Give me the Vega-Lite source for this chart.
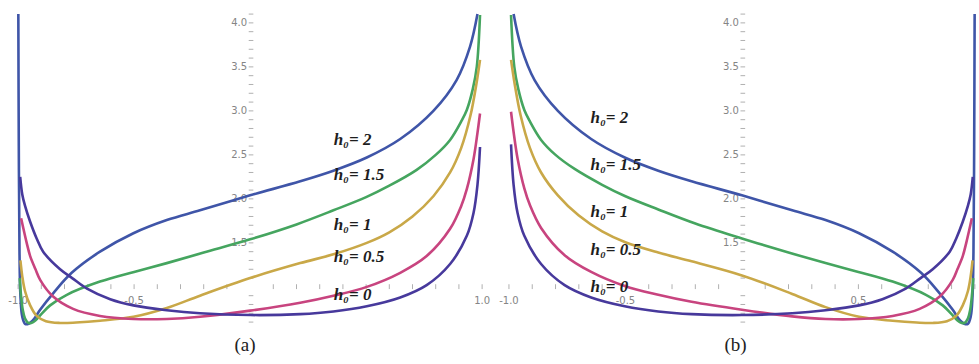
{
  "$schema": "https://vega.github.io/schema/vega-lite/v6.json",
  "background": "white",
  "padding": 0,
  "spacing": 0,
  "config": {"view": {"stroke": null}},
  "datasets": {
    "a": [
      {"h": "2", "x": -0.999, "y": 4.1}, {"h": "2", "x": -0.997, "y": 2.6}, {"h": "2", "x": -0.994, "y": 1.4}, {"h": "2", "x": -0.99, "y": 0.9}, {"h": "2", "x": -0.982, "y": 0.66}, {"h": "2", "x": -0.97, "y": 0.58}, {"h": "2", "x": -0.955, "y": 0.58}, {"h": "2", "x": -0.93, "y": 0.64}, {"h": "2", "x": -0.905, "y": 0.74}, {"h": "2", "x": -0.848, "y": 0.93}, {"h": "2", "x": -0.769, "y": 1.16}, {"h": "2", "x": -0.647, "y": 1.4}, {"h": "2", "x": -0.503, "y": 1.61}, {"h": "2", "x": -0.359, "y": 1.76}, {"h": "2", "x": -0.216, "y": 1.87}, {"h": "2", "x": 0, "y": 2.04}, {"h": "2", "x": 0.216, "y": 2.2}, {"h": "2", "x": 0.359, "y": 2.32}, {"h": "2", "x": 0.503, "y": 2.47}, {"h": "2", "x": 0.647, "y": 2.68}, {"h": "2", "x": 0.79, "y": 3.0}, {"h": "2", "x": 0.89, "y": 3.35}, {"h": "2", "x": 0.948, "y": 3.73}, {"h": "2", "x": 0.98, "y": 4.1},
      {"h": "1.5", "x": -0.993, "y": 1.1}, {"h": "1.5", "x": -0.988, "y": 0.92}, {"h": "1.5", "x": -0.98, "y": 0.74}, {"h": "1.5", "x": -0.97, "y": 0.64}, {"h": "1.5", "x": -0.955, "y": 0.59}, {"h": "1.5", "x": -0.935, "y": 0.6}, {"h": "1.5", "x": -0.9, "y": 0.69}, {"h": "1.5", "x": -0.862, "y": 0.79}, {"h": "1.5", "x": -0.79, "y": 0.91}, {"h": "1.5", "x": -0.647, "y": 1.06}, {"h": "1.5", "x": -0.5, "y": 1.17}, {"h": "1.5", "x": -0.359, "y": 1.27}, {"h": "1.5", "x": -0.2, "y": 1.39}, {"h": "1.5", "x": 0, "y": 1.54}, {"h": "1.5", "x": 0.2, "y": 1.71}, {"h": "1.5", "x": 0.359, "y": 1.87}, {"h": "1.5", "x": 0.5, "y": 2.02}, {"h": "1.5", "x": 0.6, "y": 2.15}, {"h": "1.5", "x": 0.718, "y": 2.33}, {"h": "1.5", "x": 0.8, "y": 2.5}, {"h": "1.5", "x": 0.862, "y": 2.67}, {"h": "1.5", "x": 0.91, "y": 2.88}, {"h": "1.5", "x": 0.934, "y": 3.01}, {"h": "1.5", "x": 0.96, "y": 3.25}, {"h": "1.5", "x": 0.977, "y": 3.5}, {"h": "1.5", "x": 0.991, "y": 4.09},
      {"h": "1", "x": -0.99, "y": 1.3}, {"h": "1", "x": -0.982, "y": 1.12}, {"h": "1", "x": -0.97, "y": 0.95}, {"h": "1", "x": -0.948, "y": 0.79}, {"h": "1", "x": -0.92, "y": 0.67}, {"h": "1", "x": -0.88, "y": 0.61}, {"h": "1", "x": -0.82, "y": 0.59}, {"h": "1", "x": -0.75, "y": 0.595}, {"h": "1", "x": -0.647, "y": 0.615}, {"h": "1", "x": -0.503, "y": 0.66}, {"h": "1", "x": -0.359, "y": 0.76}, {"h": "1", "x": -0.216, "y": 0.9}, {"h": "1", "x": 0, "y": 1.1}, {"h": "1", "x": 0.216, "y": 1.27}, {"h": "1", "x": 0.359, "y": 1.37}, {"h": "1", "x": 0.503, "y": 1.5}, {"h": "1", "x": 0.6, "y": 1.62}, {"h": "1", "x": 0.7, "y": 1.8}, {"h": "1", "x": 0.79, "y": 2.03}, {"h": "1", "x": 0.862, "y": 2.3}, {"h": "1", "x": 0.91, "y": 2.58}, {"h": "1", "x": 0.95, "y": 2.95}, {"h": "1", "x": 0.975, "y": 3.3}, {"h": "1", "x": 0.991, "y": 3.58},
      {"h": "0.5", "x": -0.987, "y": 1.78}, {"h": "0.5", "x": -0.977, "y": 1.66}, {"h": "0.5", "x": -0.963, "y": 1.5}, {"h": "0.5", "x": -0.948, "y": 1.35}, {"h": "0.5", "x": -0.925, "y": 1.2}, {"h": "0.5", "x": -0.905, "y": 1.08}, {"h": "0.5", "x": -0.849, "y": 0.89}, {"h": "0.5", "x": -0.763, "y": 0.75}, {"h": "0.5", "x": -0.647, "y": 0.67}, {"h": "0.5", "x": -0.503, "y": 0.635}, {"h": "0.5", "x": -0.359, "y": 0.635}, {"h": "0.5", "x": -0.216, "y": 0.66}, {"h": "0.5", "x": 0, "y": 0.73}, {"h": "0.5", "x": 0.216, "y": 0.82}, {"h": "0.5", "x": 0.359, "y": 0.9}, {"h": "0.5", "x": 0.503, "y": 1.0}, {"h": "0.5", "x": 0.647, "y": 1.16}, {"h": "0.5", "x": 0.761, "y": 1.35}, {"h": "0.5", "x": 0.862, "y": 1.66}, {"h": "0.5", "x": 0.91, "y": 1.92}, {"h": "0.5", "x": 0.934, "y": 2.11}, {"h": "0.5", "x": 0.963, "y": 2.45}, {"h": "0.5", "x": 0.98, "y": 2.75}, {"h": "0.5", "x": 0.991, "y": 2.97},
      {"h": "0", "x": -0.991, "y": 2.25}, {"h": "0", "x": -0.982, "y": 2.05}, {"h": "0", "x": -0.97, "y": 1.92}, {"h": "0", "x": -0.948, "y": 1.74}, {"h": "0", "x": -0.92, "y": 1.55}, {"h": "0", "x": -0.892, "y": 1.4}, {"h": "0", "x": -0.819, "y": 1.2}, {"h": "0", "x": -0.767, "y": 1.1}, {"h": "0", "x": -0.703, "y": 0.98}, {"h": "0", "x": -0.603, "y": 0.86}, {"h": "0", "x": -0.503, "y": 0.79}, {"h": "0", "x": -0.359, "y": 0.735}, {"h": "0", "x": -0.216, "y": 0.7}, {"h": "0", "x": 0, "y": 0.68}, {"h": "0", "x": 0.216, "y": 0.69}, {"h": "0", "x": 0.359, "y": 0.72}, {"h": "0", "x": 0.503, "y": 0.78}, {"h": "0", "x": 0.647, "y": 0.88}, {"h": "0", "x": 0.761, "y": 1.02}, {"h": "0", "x": 0.862, "y": 1.26}, {"h": "0", "x": 0.934, "y": 1.58}, {"h": "0", "x": 0.963, "y": 1.84}, {"h": "0", "x": 0.98, "y": 2.16}, {"h": "0", "x": 0.991, "y": 2.59}
    ],
    "b": [
      {"h": "2", "x": 0.999, "y": 4.1}, {"h": "2", "x": 0.997, "y": 2.6}, {"h": "2", "x": 0.994, "y": 1.4}, {"h": "2", "x": 0.99, "y": 0.9}, {"h": "2", "x": 0.982, "y": 0.66}, {"h": "2", "x": 0.97, "y": 0.58}, {"h": "2", "x": 0.955, "y": 0.58}, {"h": "2", "x": 0.93, "y": 0.64}, {"h": "2", "x": 0.905, "y": 0.74}, {"h": "2", "x": 0.848, "y": 0.93}, {"h": "2", "x": 0.769, "y": 1.16}, {"h": "2", "x": 0.647, "y": 1.4}, {"h": "2", "x": 0.503, "y": 1.61}, {"h": "2", "x": 0.359, "y": 1.76}, {"h": "2", "x": 0.216, "y": 1.87}, {"h": "2", "x": 0, "y": 2.04}, {"h": "2", "x": -0.216, "y": 2.2}, {"h": "2", "x": -0.359, "y": 2.32}, {"h": "2", "x": -0.503, "y": 2.47}, {"h": "2", "x": -0.647, "y": 2.68}, {"h": "2", "x": -0.79, "y": 3.0}, {"h": "2", "x": -0.89, "y": 3.35}, {"h": "2", "x": -0.948, "y": 3.73}, {"h": "2", "x": -0.98, "y": 4.1},
      {"h": "1.5", "x": 0.993, "y": 1.1}, {"h": "1.5", "x": 0.988, "y": 0.92}, {"h": "1.5", "x": 0.98, "y": 0.74}, {"h": "1.5", "x": 0.97, "y": 0.64}, {"h": "1.5", "x": 0.955, "y": 0.59}, {"h": "1.5", "x": 0.935, "y": 0.6}, {"h": "1.5", "x": 0.9, "y": 0.69}, {"h": "1.5", "x": 0.862, "y": 0.79}, {"h": "1.5", "x": 0.79, "y": 0.91}, {"h": "1.5", "x": 0.647, "y": 1.06}, {"h": "1.5", "x": 0.5, "y": 1.17}, {"h": "1.5", "x": 0.359, "y": 1.27}, {"h": "1.5", "x": 0.2, "y": 1.39}, {"h": "1.5", "x": 0, "y": 1.55}, {"h": "1.5", "x": -0.2, "y": 1.72}, {"h": "1.5", "x": -0.359, "y": 1.88}, {"h": "1.5", "x": -0.5, "y": 2.03}, {"h": "1.5", "x": -0.6, "y": 2.16}, {"h": "1.5", "x": -0.718, "y": 2.34}, {"h": "1.5", "x": -0.8, "y": 2.5}, {"h": "1.5", "x": -0.862, "y": 2.67}, {"h": "1.5", "x": -0.91, "y": 2.88}, {"h": "1.5", "x": -0.934, "y": 3.01}, {"h": "1.5", "x": -0.96, "y": 3.25}, {"h": "1.5", "x": -0.977, "y": 3.5}, {"h": "1.5", "x": -0.991, "y": 4.09},
      {"h": "1", "x": 0.99, "y": 1.3}, {"h": "1", "x": 0.982, "y": 1.12}, {"h": "1", "x": 0.97, "y": 0.95}, {"h": "1", "x": 0.948, "y": 0.79}, {"h": "1", "x": 0.92, "y": 0.67}, {"h": "1", "x": 0.88, "y": 0.61}, {"h": "1", "x": 0.82, "y": 0.59}, {"h": "1", "x": 0.75, "y": 0.595}, {"h": "1", "x": 0.647, "y": 0.615}, {"h": "1", "x": 0.503, "y": 0.66}, {"h": "1", "x": 0.359, "y": 0.77}, {"h": "1", "x": 0.216, "y": 0.92}, {"h": "1", "x": 0, "y": 1.13}, {"h": "1", "x": -0.216, "y": 1.29}, {"h": "1", "x": -0.359, "y": 1.39}, {"h": "1", "x": -0.503, "y": 1.51}, {"h": "1", "x": -0.6, "y": 1.63}, {"h": "1", "x": -0.7, "y": 1.81}, {"h": "1", "x": -0.79, "y": 2.04}, {"h": "1", "x": -0.862, "y": 2.3}, {"h": "1", "x": -0.91, "y": 2.58}, {"h": "1", "x": -0.95, "y": 2.95}, {"h": "1", "x": -0.975, "y": 3.3}, {"h": "1", "x": -0.991, "y": 3.58},
      {"h": "0.5", "x": 0.987, "y": 1.78}, {"h": "0.5", "x": 0.977, "y": 1.66}, {"h": "0.5", "x": 0.963, "y": 1.5}, {"h": "0.5", "x": 0.948, "y": 1.35}, {"h": "0.5", "x": 0.925, "y": 1.2}, {"h": "0.5", "x": 0.905, "y": 1.08}, {"h": "0.5", "x": 0.849, "y": 0.89}, {"h": "0.5", "x": 0.763, "y": 0.75}, {"h": "0.5", "x": 0.647, "y": 0.67}, {"h": "0.5", "x": 0.503, "y": 0.635}, {"h": "0.5", "x": 0.359, "y": 0.635}, {"h": "0.5", "x": 0.216, "y": 0.665}, {"h": "0.5", "x": 0, "y": 0.74}, {"h": "0.5", "x": -0.216, "y": 0.83}, {"h": "0.5", "x": -0.359, "y": 0.91}, {"h": "0.5", "x": -0.503, "y": 1.01}, {"h": "0.5", "x": -0.647, "y": 1.17}, {"h": "0.5", "x": -0.761, "y": 1.36}, {"h": "0.5", "x": -0.862, "y": 1.67}, {"h": "0.5", "x": -0.91, "y": 1.93}, {"h": "0.5", "x": -0.934, "y": 2.12}, {"h": "0.5", "x": -0.963, "y": 2.46}, {"h": "0.5", "x": -0.98, "y": 2.76}, {"h": "0.5", "x": -0.991, "y": 2.99},
      {"h": "0", "x": 0.991, "y": 2.25}, {"h": "0", "x": 0.982, "y": 2.05}, {"h": "0", "x": 0.97, "y": 1.92}, {"h": "0", "x": 0.948, "y": 1.74}, {"h": "0", "x": 0.92, "y": 1.55}, {"h": "0", "x": 0.892, "y": 1.4}, {"h": "0", "x": 0.819, "y": 1.2}, {"h": "0", "x": 0.767, "y": 1.1}, {"h": "0", "x": 0.703, "y": 0.98}, {"h": "0", "x": 0.603, "y": 0.86}, {"h": "0", "x": 0.503, "y": 0.79}, {"h": "0", "x": 0.359, "y": 0.735}, {"h": "0", "x": 0.216, "y": 0.7}, {"h": "0", "x": 0, "y": 0.68}, {"h": "0", "x": -0.216, "y": 0.69}, {"h": "0", "x": -0.359, "y": 0.72}, {"h": "0", "x": -0.503, "y": 0.78}, {"h": "0", "x": -0.647, "y": 0.88}, {"h": "0", "x": -0.761, "y": 1.02}, {"h": "0", "x": -0.862, "y": 1.26}, {"h": "0", "x": -0.934, "y": 1.58}, {"h": "0", "x": -0.963, "y": 1.84}, {"h": "0", "x": -0.98, "y": 2.16}, {"h": "0", "x": -0.991, "y": 2.62}
    ],
    "xticks": [
      {"v": -1.0}, {"v": -0.9}, {"v": -0.8}, {"v": -0.7}, {"v": -0.6}, {"v": -0.5}, {"v": -0.4}, {"v": -0.3}, {"v": -0.2}, {"v": -0.1},
      {"v": 0.1}, {"v": 0.2}, {"v": 0.3}, {"v": 0.4}, {"v": 0.5}, {"v": 0.6}, {"v": 0.7}, {"v": 0.8}, {"v": 0.9}, {"v": 1.0}
    ],
    "yticks": [
      {"v": 0.6}, {"v": 0.7}, {"v": 0.8}, {"v": 0.9}, {"v": 1.1}, {"v": 1.2}, {"v": 1.3}, {"v": 1.4}, {"v": 1.5}, {"v": 1.6}, {"v": 1.7}, {"v": 1.8}, {"v": 1.9}, {"v": 2.0},
      {"v": 2.1}, {"v": 2.2}, {"v": 2.3}, {"v": 2.4}, {"v": 2.5}, {"v": 2.6}, {"v": 2.7}, {"v": 2.8}, {"v": 2.9}, {"v": 3.0},
      {"v": 3.1}, {"v": 3.2}, {"v": 3.3}, {"v": 3.4}, {"v": 3.5}, {"v": 3.6}, {"v": 3.7}, {"v": 3.8}, {"v": 3.9}, {"v": 4.0}, {"v": 4.1}
    ],
    "ylabels": [
      {"v": 1.5, "t": "1.5"}, {"v": 2.0, "t": "2.0"}, {"v": 2.5, "t": "2.5"}, {"v": 3.0, "t": "3.0"}, {"v": 3.5, "t": "3.5"}, {"v": 4.0, "t": "4.0"}
    ],
    "xlabelsA": [
      {"v": -1.0, "t": "-1.0"}, {"v": -0.5, "t": "-0.5"}, {"v": 1.0, "t": "1.0"}
    ],
    "xlabelsB": [
      {"v": -1.0, "t": "-1.0"}, {"v": -0.5, "t": "-0.5"}, {"v": 0.5, "t": "0.5"}
    ],
    "tagsA": [
      {"x": 0.36, "y": 2.67, "t": "h₀= 2"},
      {"x": 0.36, "y": 2.27, "t": "h₀= 1.5"},
      {"x": 0.36, "y": 1.7, "t": "h₀= 1"},
      {"x": 0.36, "y": 1.34, "t": "h₀= 0.5"},
      {"x": 0.36, "y": 0.91, "t": "h₀= 0"}
    ],
    "tagsB": [
      {"x": -0.65, "y": 2.92, "t": "h₀= 2"},
      {"x": -0.65, "y": 2.39, "t": "h₀= 1.5"},
      {"x": -0.65, "y": 1.85, "t": "h₀= 1"},
      {"x": -0.65, "y": 1.42, "t": "h₀= 0.5"},
      {"x": -0.65, "y": 1.0, "t": "h₀= 0"}
    ]
  },
  "hconcat": [
    {
      "width": 490,
      "height": 330,
      "title": {"text": "(a)", "orient": "bottom", "offset": 6, "fontSize": 19, "font": "Liberation Serif", "fontWeight": "normal", "color": "#222"},
      "layer": [
        {
          "mark": {"type": "rule", "color": "#b8b8b8", "strokeWidth": 1},
          "encoding": {
            "x": {"datum": -1.078, "type": "quantitative", "scale": {"domain": [-1.078, 1.034], "nice": false, "zero": false}, "axis": null},
            "x2": {"datum": 1.03},
            "y": {"datum": 1, "type": "quantitative", "scale": {"domain": [0.51, 4.26], "nice": false, "zero": false}, "axis": null}
          }
        },
        {
          "mark": {"type": "rule", "color": "#b8b8b8", "strokeWidth": 1},
          "encoding": {
            "x": {"datum": 0, "type": "quantitative"},
            "y": {"datum": 4.15, "type": "quantitative"},
            "y2": {"datum": 0.53}
          }
        },
        {
          "data": {"name": "xticks"},
          "mark": {"type": "rule", "color": "#b0b0b0", "strokeWidth": 1},
          "encoding": {
            "x": {"field": "v", "type": "quantitative"},
            "y": {"datum": 0.975, "type": "quantitative"},
            "y2": {"datum": 1.03}
          }
        },
        {
          "data": {"name": "yticks"},
          "mark": {"type": "rule", "color": "#b0b0b0", "strokeWidth": 1},
          "encoding": {
            "y": {"field": "v", "type": "quantitative"},
            "x": {"datum": -0.006, "type": "quantitative"},
            "x2": {"datum": 0.014}
          }
        },
        {
          "data": {"name": "ylabels"},
          "mark": {"type": "text", "align": "right", "baseline": "middle", "dx": -3, "font": "DejaVu Sans", "fontSize": 10, "color": "#858585"},
          "encoding": {
            "x": {"datum": 0, "type": "quantitative"},
            "y": {"field": "v", "type": "quantitative"},
            "text": {"field": "t"}
          }
        },
        {
          "data": {"name": "xlabelsA"},
          "mark": {"type": "text", "align": "center", "baseline": "top", "dy": 9, "font": "DejaVu Sans", "fontSize": 10, "color": "#858585"},
          "encoding": {
            "x": {"field": "v", "type": "quantitative"},
            "y": {"datum": 1, "type": "quantitative"},
            "text": {"field": "t"}
          }
        },
        {
          "data": {"name": "a"},
          "mark": {"type": "line", "strokeWidth": 2.6, "interpolate": "catmull-rom", "clip": true},
          "encoding": {
            "x": {"field": "x", "type": "quantitative"},
            "y": {"field": "y", "type": "quantitative"},
            "color": {"field": "h", "type": "nominal", "legend": null, "scale": {"domain": ["0", "0.5", "1", "1.5", "2"], "range": ["#47399c", "#c8447f", "#c9a848", "#45a55f", "#3f55a8"]}}
          }
        },
        {
          "data": {"name": "tagsA"},
          "mark": {"type": "text", "align": "left", "baseline": "middle", "font": "Liberation Serif", "fontStyle": "italic", "fontWeight": "bold", "fontSize": 17, "color": "#1e1e1e"},
          "encoding": {
            "x": {"field": "x", "type": "quantitative"},
            "y": {"field": "y", "type": "quantitative"},
            "text": {"field": "t"}
          }
        },
        {
          "mark": {"type": "text", "align": "right", "baseline": "middle", "font": "DejaVu Serif", "fontWeight": "bold", "fontSize": 13, "color": "#111"},
          "encoding": {
            "x": {"datum": -0.04, "type": "quantitative"},
            "y": {"datum": 3.81, "type": "quantitative"},
            "text": {"value": "αₛ,ₚₘ"}
          }
        },
        {
          "mark": {"type": "text", "align": "left", "baseline": "middle", "font": "DejaVu Serif", "fontStyle": "italic", "fontWeight": "bold", "fontSize": 13, "color": "#111"},
          "encoding": {
            "x": {"datum": 0.76, "type": "quantitative"},
            "y": {"datum": 0.89, "type": "quantitative"},
            "text": {"value": "mₛ,ₘ"}
          }
        }
      ]
    },
    {
      "width": 489,
      "height": 330,
      "title": {"text": "(b)", "orient": "bottom", "offset": 6, "fontSize": 19, "font": "Liberation Serif", "fontWeight": "normal", "color": "#222"},
      "layer": [
        {
          "mark": {"type": "rule", "color": "#b8b8b8", "strokeWidth": 1},
          "encoding": {
            "x": {"datum": -1.077, "type": "quantitative", "scale": {"domain": [-1.077, 1.022], "nice": false, "zero": false}, "axis": null},
            "x2": {"datum": 1.022},
            "y": {"datum": 1, "type": "quantitative", "scale": {"domain": [0.51, 4.26], "nice": false, "zero": false}, "axis": null}
          }
        },
        {
          "mark": {"type": "rule", "color": "#b8b8b8", "strokeWidth": 1},
          "encoding": {
            "x": {"datum": 0, "type": "quantitative"},
            "y": {"datum": 4.2, "type": "quantitative"},
            "y2": {"datum": 0.53}
          }
        },
        {
          "data": {"name": "xticks"},
          "mark": {"type": "rule", "color": "#b0b0b0", "strokeWidth": 1},
          "encoding": {
            "x": {"field": "v", "type": "quantitative"},
            "y": {"datum": 0.975, "type": "quantitative"},
            "y2": {"datum": 1.03}
          }
        },
        {
          "data": {"name": "yticks"},
          "mark": {"type": "rule", "color": "#b0b0b0", "strokeWidth": 1},
          "encoding": {
            "y": {"field": "v", "type": "quantitative"},
            "x": {"datum": -0.006, "type": "quantitative"},
            "x2": {"datum": 0.014}
          }
        },
        {
          "data": {"name": "ylabels"},
          "mark": {"type": "text", "align": "right", "baseline": "middle", "dx": -3, "font": "DejaVu Sans", "fontSize": 10, "color": "#858585"},
          "encoding": {
            "x": {"datum": 0, "type": "quantitative"},
            "y": {"field": "v", "type": "quantitative"},
            "text": {"field": "t"}
          }
        },
        {
          "data": {"name": "xlabelsB"},
          "mark": {"type": "text", "align": "center", "baseline": "top", "dy": 9, "font": "DejaVu Sans", "fontSize": 10, "color": "#858585"},
          "encoding": {
            "x": {"field": "v", "type": "quantitative"},
            "y": {"datum": 1, "type": "quantitative"},
            "text": {"field": "t"}
          }
        },
        {
          "data": {"name": "b"},
          "mark": {"type": "line", "strokeWidth": 2.6, "interpolate": "catmull-rom", "clip": true},
          "encoding": {
            "x": {"field": "x", "type": "quantitative"},
            "y": {"field": "y", "type": "quantitative"},
            "color": {"field": "h", "type": "nominal", "legend": null, "scale": {"domain": ["0", "0.5", "1", "1.5", "2"], "range": ["#47399c", "#c8447f", "#c9a848", "#45a55f", "#3f55a8"]}}
          }
        },
        {
          "data": {"name": "tagsB"},
          "mark": {"type": "text", "align": "left", "baseline": "middle", "font": "Liberation Serif", "fontStyle": "italic", "fontWeight": "bold", "fontSize": 17, "color": "#1e1e1e"},
          "encoding": {
            "x": {"field": "x", "type": "quantitative"},
            "y": {"field": "y", "type": "quantitative"},
            "text": {"field": "t"}
          }
        },
        {
          "mark": {"type": "text", "align": "right", "baseline": "middle", "font": "DejaVu Serif", "fontWeight": "bold", "fontSize": 13, "color": "#111"},
          "encoding": {
            "x": {"datum": -0.04, "type": "quantitative"},
            "y": {"datum": 3.86, "type": "quantitative"},
            "text": {"value": "αₛ,ₚₘ"}
          }
        },
        {
          "mark": {"type": "text", "align": "left", "baseline": "middle", "font": "DejaVu Serif", "fontStyle": "italic", "fontWeight": "bold", "fontSize": 13, "color": "#111"},
          "encoding": {
            "x": {"datum": 0.58, "type": "quantitative"},
            "y": {"datum": 1.08, "type": "quantitative"},
            "text": {"value": "mₛ,ₘ"}
          }
        }
      ]
    }
  ]
}
